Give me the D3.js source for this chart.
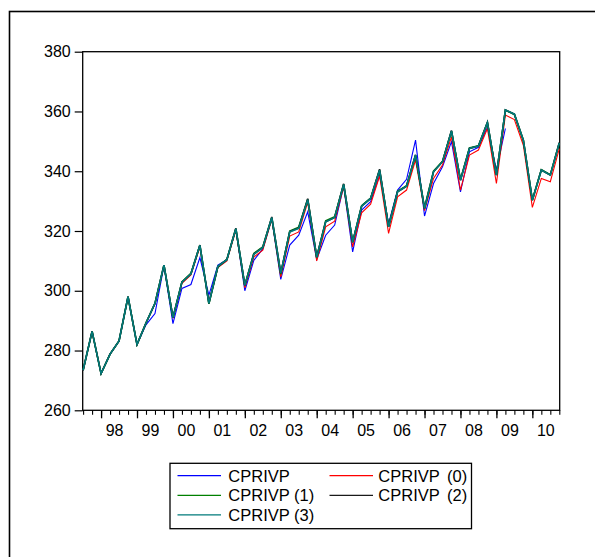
<!DOCTYPE html>
<html>
<head>
<meta charset="utf-8">
<script src="https://cdn.jsdelivr.net/npm/d3@7"></script>
<style>
  html, body { margin: 0; padding: 0; background: #fff; }
  svg { display: block; }
  text { font-family: "Liberation Sans", Arial, sans-serif; fill: #000; }
</style>
</head>
<body>
<svg id="chart" width="595" height="557"></svg>
<script>
// ---------- DATA ----------
const quarters = [
  "1997Q3","1997Q4",
  "1998Q1","1998Q2","1998Q3","1998Q4",
  "1999Q1","1999Q2","1999Q3","1999Q4",
  "2000Q1","2000Q2","2000Q3","2000Q4",
  "2001Q1","2001Q2","2001Q3","2001Q4",
  "2002Q1","2002Q2","2002Q3","2002Q4",
  "2003Q1","2003Q2","2003Q3","2003Q4",
  "2004Q1","2004Q2","2004Q3","2004Q4",
  "2005Q1","2005Q2","2005Q3","2005Q4",
  "2006Q1","2006Q2","2006Q3","2006Q4",
  "2007Q1","2007Q2","2007Q3","2007Q4",
  "2008Q1","2008Q2","2008Q3","2008Q4",
  "2009Q1","2009Q2","2009Q3","2009Q4",
  "2010Q1","2010Q2","2010Q3","2010Q4"
];
const yearLabels = ["98","99","00","01","02","03","04","05","06","07","08","09","10"];
const yearStarts = ["1998Q1","1999Q1","2000Q1","2001Q1","2002Q1","2003Q1","2004Q1","2005Q1","2006Q1","2007Q1","2008Q1","2009Q1","2010Q1"];
const yTicks = [260, 280, 300, 320, 340, 360, 380];

const cprivp = [
  273.4,286.4,272.3,278.8,283.2,298.0,282.0,288.6,292.4,308.4,
  289.0,300.8,302.1,311.1,298.5,308.6,310.4,320.5,300.0,310.2,
  314.0,324.0,303.8,315.3,318.6,326.4,310.5,318.6,322.0,335.0,
  313.0,327.0,329.8,338.7,322.5,333.7,337.3,350.4,325.0,335.9,
  341.5,349.9,333.1,346.5,348.0,354.7,340.4,354.3,null,null,
  null,null,null,null
];
const cprivp0 = [
  273.4,286.4,272.3,278.8,283.2,298.0,282.0,289.2,295.6,308.5,
  290.8,302.5,305.3,314.6,296.0,307.8,310.0,320.2,301.0,311.3,
  313.6,324.0,304.6,318.3,319.7,329.6,310.0,321.4,323.3,334.8,
  314.7,326.1,329.0,338.4,319.2,331.4,333.7,343.7,326.8,337.6,
  342.1,351.5,333.7,345.4,347.1,354.3,335.9,358.8,357.3,348.7,
  327.9,337.6,336.5,347.6
];
const cprivp1 = [
  273.4,286.4,272.3,278.8,283.2,298.0,282.0,289.2,295.8,308.6,
  291.0,303.0,305.8,315.2,295.6,308.0,310.5,320.8,301.8,312.5,
  314.7,324.4,305.6,320.0,321.3,330.6,311.2,323.4,324.8,335.6,
  316.2,328.5,331.0,340.3,321.6,333.3,335.2,345.3,327.8,340.0,
  343.3,353.4,337.2,347.8,348.5,356.2,338.8,360.4,359.0,350.3,
  330.4,340.5,338.8,349.4
];
const cprivp2 = [
  273.4,286.4,272.3,278.8,283.2,298.0,282.0,289.2,295.8,308.6,
  291.0,302.9,305.7,315.3,295.8,308.1,310.4,320.9,301.8,312.3,
  314.5,324.7,305.9,319.8,321.0,330.8,311.3,323.1,324.5,335.8,
  316.3,328.3,330.9,340.7,321.4,333.1,335.0,345.5,327.5,339.8,
  343.2,353.6,337.0,347.6,348.4,356.4,338.7,360.5,359.1,350.4,
  330.3,340.4,338.7,349.6
];
const cprivp3 = [
  273.4,286.4,272.3,278.8,283.2,298.0,282.0,289.2,295.8,308.6,
  291.0,302.9,305.7,315.2,295.8,308.2,310.4,320.8,301.8,312.2,
  314.5,324.5,305.9,319.7,320.9,330.5,311.2,323.1,324.5,335.6,
  316.3,328.3,330.9,340.4,321.4,333.1,335.0,345.4,327.5,339.8,
  343.2,353.5,337.0,347.6,348.4,356.3,338.7,360.5,359.1,350.4,
  330.3,340.4,338.7,349.5
];

const seriesNames = ["CPRIVP", "CPRIVP (0)", "CPRIVP (1)", "CPRIVP (2)", "CPRIVP (3)"];
const seriesColors = ["#0000ff", "#ff0000", "#008000", "#1a1a1a", "#007a7a"];
const seriesValues = [cprivp, cprivp0, cprivp1, cprivp2, cprivp3];
const seriesWidths = [1.1, 1.1, 1.6, 1.6, 1.6];

// ---------- LAYOUT ----------
const svg = d3.select("#chart");
const plot = { left: 82.7, right: 559.7, top: 51.7, bottom: 410.3 };

// outer frame (extends beyond the visible window on right/bottom)
svg.append("rect")
  .attr("x", 9.5).attr("y", 11.5)
  .attr("width", 620).attr("height", 580)
  .attr("fill", "none").attr("stroke", "#000").attr("stroke-width", 1.6);

const x = d3.scalePoint().domain(quarters).range([plot.left + 0.4, plot.right - 0.4]);
const y = d3.scaleLinear().domain([260, 380]).range([plot.bottom, plot.top]);

// plot box
svg.append("rect")
  .attr("x", plot.left).attr("y", plot.top)
  .attr("width", plot.right - plot.left).attr("height", plot.bottom - plot.top)
  .attr("fill", "none").attr("stroke", "#000").attr("stroke-width", 1.3);

// y axis
const yAxis = svg.append("g")
  .attr("transform", `translate(${plot.left},0)`)
  .call(d3.axisLeft(y).tickValues(yTicks).tickSize(8).tickPadding(4).tickFormat(d3.format("d")));
yAxis.select(".domain").remove();
yAxis.selectAll("line").attr("stroke", "#000").attr("stroke-width", 1.2);
yAxis.selectAll("text").style("font-size", "16px").attr("fill", "#000")
  .style("font-family", "'Liberation Sans', Arial, sans-serif");

// x axis minor ticks (every quarter)
const xMinor = svg.append("g")
  .attr("transform", `translate(0,${plot.bottom})`)
  .call(d3.axisBottom(x).tickValues(quarters).tickSize(4.5).tickFormat(""));
xMinor.select(".domain").remove();
xMinor.selectAll("line").attr("stroke", "#000").attr("stroke-width", 1.1);

// x axis major ticks (year starts)
const xMajor = svg.append("g")
  .attr("transform", `translate(0,${plot.bottom})`)
  .call(d3.axisBottom(x).tickValues(yearStarts).tickSize(8).tickFormat(""));
xMajor.select(".domain").remove();
xMajor.selectAll("line").attr("stroke", "#000").attr("stroke-width", 1.3);

// year labels centered on the four quarters of each year
const step = x.step();
svg.append("g").selectAll("text")
  .data(yearStarts)
  .join("text")
  .attr("x", (d) => x(d) + 1.5 * step)
  .attr("y", 436)
  .attr("text-anchor", "middle")
  .style("font-size", "16px")
  .text((d, i) => yearLabels[i]);

// lines
const line = d3.line()
  .defined((d) => d != null)
  .x((d, i) => x(quarters[i]))
  .y((d) => y(d));

const lineG = svg.append("g");
seriesValues.forEach((vals, k) => {
  lineG.append("path")
    .attr("d", line(vals))
    .attr("fill", "none")
    .attr("stroke", seriesColors[k])
    .attr("stroke-width", seriesWidths[k])
    .attr("stroke-linejoin", "miter");
});

// legend
const lg = svg.append("g");
lg.append("rect")
  .attr("x", 170).attr("y", 463.3)
  .attr("width", 301.5).attr("height", 65.4)
  .attr("fill", "#fff").attr("stroke", "#000").attr("stroke-width", 1.3);

const legendPos = [
  { lx: 177.5, tx: 228.3, y: 475.7, ws: 0 },
  { lx: 329.5, tx: 378.3, y: 475.7, ws: 3 },
  { lx: 177.5, tx: 228.3, y: 495.3, ws: 0 },
  { lx: 329.5, tx: 378.3, y: 495.3, ws: 3 },
  { lx: 177.5, tx: 228.3, y: 514.8, ws: 0 }
];
seriesNames.forEach((name, k) => {
  const p = legendPos[k];
  lg.append("line")
    .attr("x1", p.lx).attr("x2", p.lx + 43.5)
    .attr("y1", p.y).attr("y2", p.y)
    .attr("stroke", seriesColors[k]).attr("stroke-width", 1.3);
  lg.append("text")
    .attr("x", p.tx).attr("y", p.y)
    .attr("dy", "0.36em")
    .style("font-size", "16.5px")
    .style("word-spacing", p.ws + "px")
    .text(name);
});
</script>
</body>
</html>
